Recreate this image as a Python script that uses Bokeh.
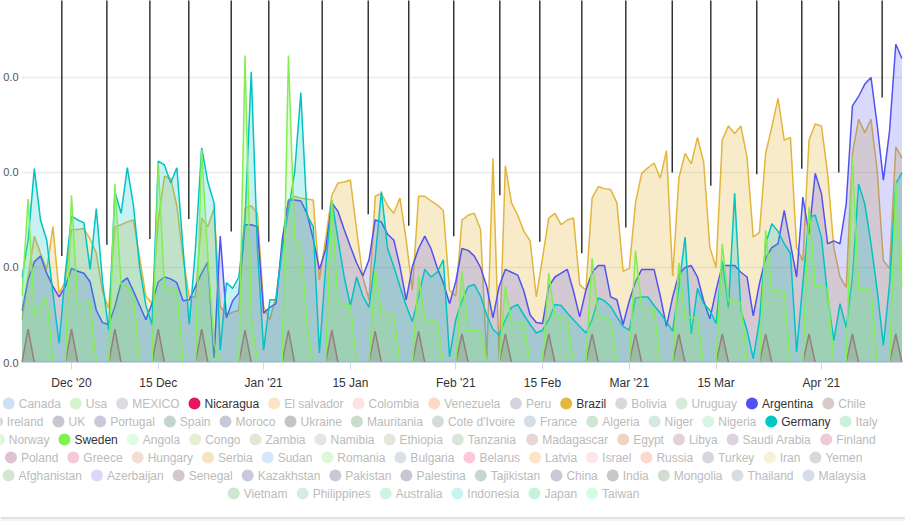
import pandas as pd
from bokeh.plotting import figure
from bokeh.models import (Range1d, FixedTicker, ColumnDataSource, GlobalInlineStyleSheet,
                          BoxAnnotation, Span)
from bokeh.embed import file_html
from bokeh.resources import INLINE
from bokeh.core.properties import value

# ---------------- data ----------------
start_date = "2020-11-23"
n_days = 143

nicaragua = [
    0, 3.5, 0, 0, 0, 0, 0,
    0, 3.5, 0, 0, 0, 0, 0,
    0, 3.5, 0, 0, 0, 0, 0,
    0, 3.5, 0, 0, 0, 0, 0,
    0, 3.5, 0, 0, 0, 0, 0,
    0, 3.4, 0, 0, 0, 0, 0,
    0, 3.4, 0, 0, 0, 0, 0,
    0, 3.4, 0, 0, 0, 0, 0,
    0, 3.3, 0, 0, 0, 0, 0,
    0, 3.3, 0, 0, 0, 0, 0,
    0, 3.0, 0, 0, 0, 0, 0,
    0, 3.0, 0, 0, 0, 0, 0,
    0, 3.0, 0, 0, 0, 0, 0,
    0, 3.0, 0, 0, 0, 0, 0,
    0, 3.0, 0, 0, 0, 0, 0,
    0, 3.0, 0, 0, 0, 0, 0,
    0, 3.0, 0, 0, 0, 0, 0,
    0, 3.0, 0, 0, 0, 0, 0,
    0, 3.0, 0, 0, 0, 0, 0,
    0, 3.0, 0, 0, 0, 0, 0,
    0, 3.0, 0,
]

brazil = [
    4.5, 9.0, 13.3, 11.5, 9.8, 14.3, 7.3,
    8.5, 14.0, 14.0, 14.1, 13.0, 11.5, 7.5,
    5.7, 14.3, 14.5, 14.8, 15.0, 11.0, 7.0,
    6.2, 15.0, 19.6, 19.4, 16.5, 11.0, 6.9,
    6.9, 15.2, 14.3, 16.2, 5.9, 5.0, 5.3,
    5.5, 16.2, 16.5, 15.7, 5.9, 4.5, 7.0,
    12.0, 17.0, 17.5, 17.3, 17.2, 17.1, 8.7,
    13.0, 17.6, 18.9, 19.0, 19.2, 14.0, 9.0,
    6.6, 17.5, 17.8, 16.5, 15.7, 17.3, 12.9,
    7.6, 17.5, 17.5, 17.0, 16.6, 16.0, 7.6,
    7.0, 15.0, 15.5, 15.7, 14.0, 0.3, 21.5,
    0.3, 20.7, 16.8, 15.5, 13.8, 12.8, 6.9,
    11.0, 15.2, 15.7, 14.5, 15.0, 15.2, 8.2,
    7.6, 17.3, 18.5, 18.3, 18.2, 16.8, 9.6,
    9.9, 16.8, 19.9, 20.5, 21.0, 19.4, 22.3,
    9.1, 19.4, 22.0, 20.9, 23.7, 21.1, 12.1,
    10.0, 23.4, 24.9, 24.1, 24.9, 21.6, 13.2,
    13.7, 22.0, 24.8, 27.8, 23.4, 23.7, 12.1,
    10.7, 23.4, 25.1, 24.9, 19.9, 12.1, 9.0,
    7.9, 22.0, 25.6, 24.2, 25.6, 20.2, 10.7,
    9.9, 22.7, 21.5,
]

argentina = [
    5.4, 8.7, 10.6, 11.2, 9.4, 8.0, 6.9,
    8.0, 9.9, 9.6, 9.4, 8.5, 5.5, 4.2,
    4.0, 5.9, 8.4, 8.9, 7.5, 6.0, 4.5,
    6.2, 8.5, 9.0, 8.8, 8.4, 6.5, 6.6,
    8.0, 9.4, 10.6, 0.5, 13.3, 4.7, 6.5,
    7.3, 14.5, 14.5, 14.3, 5.2, 5.8, 6.2,
    12.9, 17.1, 17.1, 17.0, 15.7, 13.0, 9.8,
    11.9, 16.8, 15.9, 14.0, 12.2, 10.5, 9.1,
    10.8, 15.0, 14.8, 13.5, 12.9, 10.1, 6.6,
    10.1, 12.0, 13.3, 12.0, 10.0, 8.4, 6.2,
    8.5, 12.0, 11.8, 11.2, 10.0, 8.0, 4.7,
    8.0, 9.8, 9.5, 9.2, 7.5, 5.0, 4.2,
    4.1, 8.0, 9.0, 9.4, 9.8, 7.5, 4.8,
    7.6, 9.5, 10.2, 10.2, 6.9, 6.6, 4.0,
    6.5, 8.5, 9.8, 9.8, 9.8, 7.0, 3.8,
    6.9, 9.3, 10.0, 10.2, 9.0, 6.5, 4.6,
    7.6, 10.2, 10.2, 10.2, 9.5, 9.0, 4.9,
    8.3, 11.0, 12.1, 12.5, 16.0, 12.5, 9.0,
    17.4, 13.5, 19.9, 17.8, 12.5, 12.8, 12.5,
    16.7, 27.0, 28.0, 29.3, 30.0, 25.0, 19.2,
    24.4, 33.5, 32.0,
]

germany = [
    8.9, 12.9, 20.4, 15.0, 12.9, 7.3, 2.0,
    9.4, 15.4, 15.0, 14.7, 9.8, 16.2, 8.5,
    3.4, 18.0, 15.7, 20.5, 16.5, 10.0, 6.0,
    4.0, 21.2, 20.8, 18.9, 20.5, 12.0, 4.0,
    12.0, 22.6, 19.0, 16.8, 1.3, 8.4, 7.8,
    9.0, 15.0, 30.6, 12.0, 1.3, 6.6, 6.6,
    12.0, 16.0, 20.0, 28.4, 15.5, 14.3, 1.0,
    10.0, 17.1, 13.0, 9.0, 6.0, 9.0, 7.0,
    5.8, 11.0, 18.0, 12.0, 10.1, 8.0, 6.0,
    4.3, 7.0, 9.8, 9.0, 9.5, 10.8, 0.6,
    4.5, 6.5, 8.0, 8.2, 7.0, 5.0, 3.5,
    2.9, 4.5, 5.8, 6.1, 5.0, 4.0, 3.1,
    3.4, 4.5, 6.1, 6.0, 5.2, 4.5, 3.8,
    3.1, 4.5, 6.8, 6.5, 5.9, 4.8, 3.8,
    3.4, 6.8, 6.9, 6.9, 6.0, 5.2, 4.3,
    3.3, 7.9, 13.2, 3.0, 7.8, 6.2, 5.5,
    4.1, 10.7, 5.8, 17.8, 5.5, 3.4, 0.4,
    4.4, 12.5, 14.6, 13.8, 12.5, 11.5, 1.1,
    8.3, 15.3, 15.5, 13.2, 7.0, 2.3, 6.2,
    3.7, 9.0, 18.8, 16.7, 12.5, 7.6, 1.8,
    8.3, 18.8, 20.0,
]

sweden = [
    7.0, 17.2, 5.0, 6.0, 6.8, 0, 0,
    0, 17.6, 6.2, 6.2, 6.3, 0, 0,
    0, 18.8, 8.2, 8.0, 7.0, 0, 0,
    0, 21.0, 8.0, 7.6, 7.6, 0, 0,
    0, 22.4, 11.0, 2.0, 0, 0, 0,
    0, 32.3, 5.0, 0, 0, 0, 0,
    0, 32.3, 13.0, 12.5, 4.0, 0, 0,
    0, 17.1, 6.2, 6.2, 6.0, 0, 0,
    0, 9.8, 5.2, 5.2, 5.0, 0, 0,
    0, 9.1, 4.5, 4.5, 4.3, 0, 0,
    0, 9.6, 3.4, 3.4, 3.3, 0, 0,
    0, 8.0, 4.3, 4.3, 4.2, 0, 0,
    0, 9.4, 4.8, 4.8, 4.6, 0, 0,
    0, 11.0, 4.8, 4.6, 4.5, 0, 0,
    0, 11.8, 5.8, 5.8, 5.6, 0, 0,
    0, 10.5, 4.8, 4.8, 4.6, 0, 0,
    0, 12.5, 6.5, 6.5, 6.3, 0, 0,
    0, 13.9, 7.6, 7.6, 7.4, 0, 0,
    0, 16.4, 8.0, 8.0, 7.8, 0, 0,
    0, 21.6, 7.8, 7.8, 7.6, 0, 0,
    0, 19.0, 8.0,
]

marker_dates = [
    "2020-11-29 10:30", "2020-12-06 17:00", "2020-12-13 15:30", "2020-12-19 22:15",
    "2020-12-26 18:30", "2021-01-01 20:00", "2021-01-10 10:45", "2021-01-17 21:00",
    "2021-01-24 10:00", "2021-01-31 16:15", "2021-02-08 02:40", "2021-02-14 13:30",
    "2021-02-21 08:10", "2021-02-28 10:30", "2021-03-07 22:20", "2021-03-14 03:40",
    "2021-03-21 13:40", "2021-03-28 20:00", "2021-04-03 19:10", "2021-04-10 19:10",
]
marker_values = [11.2, 12.4, 13.0, 15.1, 13.8, 12.7, 16.1, 15.6, 14.4, 13.3,
                 17.6, 12.7, 11.5, 14.2, 20.0, 18.6, 19.8, 20.4, 20.0, 27.9]

tick_dates = ["2020-12-01", "2020-12-15", "2021-01-01", "2021-01-15", "2021-02-01",
              "2021-02-15", "2021-03-01", "2021-03-15", "2021-04-01"]
tick_labels = ["Dec '20", "15 Dec", "Jan '21", "15 Jan", "Feb '21",
               "15 Feb", "Mar '21", "15 Mar", "Apr '21"]

y_ticks = [0, 10, 20, 30]
y_tick_labels = ["0.0", "0.0", "0.0", "0.0"]

legend_rows = [
    ["Canada", "Usa", "MEXICO", "Nicaragua", "El salvador", "Colombia", "Venezuela",
     "Peru", "Brazil", "Bolivia", "Uruguay", "Argentina", "Chile"],
    ["Ireland", "UK", "Portugal", "Spain", "Moroco", "Ukraine", "Mauritania",
     "Cote d'Ivoire", "France", "Algeria", "Niger", "Nigeria", "Germany", "Italy"],
    ["Norway", "Sweden", "Angola", "Congo", "Zambia", "Namibia", "Ethiopia",
     "Tanzania", "Madagascar", "Egypt", "Libya", "Saudi Arabia", "Finland"],
    ["Poland", "Greece", "Hungary", "Serbia", "Sudan", "Romania", "Bulgaria",
     "Belarus", "Latvia", "Israel", "Russia", "Turkey", "Iran", "Yemen"],
    ["Afghanistan", "Azerbaijan", "Senegal", "Kazakhstan", "Pakistan", "Palestina",
     "Tajikistan", "China", "India", "Mongolia", "Thailand", "Malaysia"],
    ["Vietnam", "Philippines", "Australia", "Indonesia", "Japan", "Taiwan"],
]

# ---------------- styles ----------------
series_styles = [
    ("Nicaragua", nicaragua, "#e8185f", 0.25),
    ("Brazil", brazil, "#e2b63c", 0.28),
    ("Argentina", argentina, "#5252f2", 0.22),
    ("Germany", germany, "#00c4c4", 0.22),
    ("Sweden", sweden, "#82ee55", 0.22),
]
legend_color = {
    "Canada": "#cfe0f5", "Usa": "#d6f5cf", "MEXICO": "#d9dde2", "Nicaragua": "#e8185f",
    "El salvador": "#fde4c2", "Colombia": "#fde2e4", "Venezuela": "#fbd8c8", "Peru": "#d5d3de",
    "Brazil": "#e2b93f", "Bolivia": "#ddd7d9", "Uruguay": "#d6ecd8", "Argentina": "#5151f5",
    "Chile": "#d9c9c9",
    "Ireland": "#c9c9d9", "UK": "#c7c7d3", "Portugal": "#ccc8d9", "Spain": "#c5d5cc",
    "Moroco": "#c9c8d6", "Ukraine": "#c4c4c4", "Mauritania": "#cbdccb", "Cote d'Ivoire": "#d3dcdc",
    "France": "#d3deea", "Algeria": "#cfe6d2", "Niger": "#d5e8e8", "Nigeria": "#d5f6e1",
    "Germany": "#00c7c7", "Italy": "#c9f2dd",
    "Norway": "#d6f7d6", "Sweden": "#80f24d", "Angola": "#e2fce2", "Congo": "#e5f0d3",
    "Zambia": "#e6e6d4", "Namibia": "#e5e5e5", "Ethiopia": "#e6e6dc", "Tanzania": "#d9e6d9",
    "Madagascar": "#ead5d5", "Egypt": "#ecd5c4", "Libya": "#e0d2d6", "Saudi Arabia": "#ddd2e2",
    "Finland": "#eccad6",
    "Poland": "#dec4d2", "Greece": "#f5c9d5", "Hungary": "#f6ddd3", "Serbia": "#f6e5c3",
    "Sudan": "#d6e6fd", "Romania": "#ddf8d5", "Bulgaria": "#dde0e5", "Belarus": "#fcc9dc",
    "Latvia": "#fde5c3", "Israel": "#fde6ea", "Russia": "#fdd8cb", "Turkey": "#d9d5de",
    "Iran": "#f8f0d9", "Yemen": "#ddd8d8",
    "Afghanistan": "#d3e8d3", "Azerbaijan": "#d8d8fd", "Senegal": "#d5c8c8",
    "Kazakhstan": "#c9c9dd", "Pakistan": "#c9c8d6", "Palestina": "#c9c5d2",
    "Tajikistan": "#c6d6d1", "China": "#c9c9d6", "India": "#c7c7c9", "Mongolia": "#d2ddd2",
    "Thailand": "#d6dede", "Malaysia": "#d5dde9",
    "Vietnam": "#cde6cd", "Philippines": "#d5eaea", "Australia": "#d1f3e1",
    "Indonesia": "#c9f3f5", "Japan": "#c6f3dc", "Taiwan": "#d5fde3",
}
active = {"Nicaragua", "Brazil", "Argentina", "Germany", "Sweden"}
FONT = "Liberation Sans"


def to_ms(s):
    return pd.Timestamp(s).value / 1e6


dates = pd.date_range(start_date, periods=n_days, freq="D")

# ---------------- main chart ----------------
p = figure(width=905, height=395, x_axis_type="datetime",
           x_range=Range1d(to_ms("2020-11-22 22:20"), to_ms("2021-04-14 02:00")),
           y_range=Range1d(0, 38.1),
           toolbar_location=None, output_backend="svg",
           min_border_left=21, min_border_right=3, min_border_top=0, min_border_bottom=33)
p.outline_line_color = None
p.background_fill_color = "white"
p.border_fill_color = "white"
p.xgrid.visible = False
p.ygrid.grid_line_color = "#e9e9e9"
p.ygrid.grid_line_width = 1.5

for name, vals, color, alpha in series_styles:
    src = ColumnDataSource(dict(x=dates, y=vals))
    p.varea(x="x", y1=0, y2="y", source=src, fill_color=color, fill_alpha=alpha)
    p.line(x="x", y="y", source=src, line_color=color, line_width=1.5)

mk = ColumnDataSource(dict(x=pd.to_datetime(marker_dates), y=marker_values,
                           top=[60] * len(marker_values)))
p.segment(x0="x", y0="y", x1="x", y1="top", source=mk, line_color="#262626", line_width=1.4)

tick_ms = [to_ms(t) for t in tick_dates]
p.xaxis.ticker = FixedTicker(ticks=tick_ms)
p.xaxis.major_label_overrides = {t: l for t, l in zip(tick_ms, tick_labels)}
p.xaxis.axis_line_color = "#ccd6eb"
p.xaxis.major_tick_line_color = "#ccd6eb"
p.xaxis.major_tick_in = 0
p.xaxis.major_tick_out = 7
p.xaxis.minor_tick_line_color = None
p.xaxis.major_label_text_font = FONT
p.xaxis.major_label_text_font_size = "12px"
p.xaxis.major_label_text_color = "#333333"
p.xaxis.major_label_standoff = 6

p.yaxis.ticker = FixedTicker(ticks=y_ticks)
p.yaxis.major_label_overrides = {t: l for t, l in zip(y_ticks, y_tick_labels)}
p.yaxis.axis_line_color = None
p.yaxis.major_tick_line_color = None
p.yaxis.minor_tick_line_color = None
p.yaxis.major_tick_in = 0
p.yaxis.major_tick_out = 0
p.yaxis.major_label_text_font = FONT
p.yaxis.major_label_text_font_size = "11px"
p.yaxis.major_label_text_color = "#555555"
p.yaxis.major_label_standoff = 3
p.ygrid.ticker = FixedTicker(ticks=y_ticks)

# ---------------- legend ----------------
CW = {' ': 278, "'": 191, '.': 278,
      'a': 556, 'b': 556, 'c': 500, 'd': 556, 'e': 556, 'f': 278, 'g': 556, 'h': 556,
      'i': 222, 'j': 222, 'k': 500, 'l': 222, 'm': 833, 'n': 556, 'o': 556, 'p': 556,
      'q': 556, 'r': 333, 's': 500, 't': 278, 'u': 556, 'v': 500, 'w': 722, 'x': 500,
      'y': 500, 'z': 500,
      'A': 667, 'B': 667, 'C': 722, 'D': 722, 'E': 667, 'F': 611, 'G': 778, 'H': 722,
      'I': 278, 'J': 500, 'K': 667, 'L': 556, 'M': 833, 'N': 722, 'O': 778, 'P': 667,
      'Q': 778, 'R': 722, 'S': 667, 'T': 611, 'U': 722, 'V': 667, 'W': 944, 'X': 667,
      'Y': 667, 'Z': 611}


def text_w(s, size=12):
    return sum(CW.get(c, 556) for c in s) * size / 1000.0


legend_center = 433.7
sym_r = 6
text_gap = 10
item_gap = 15
row_top = 8
row_step = 18

cx, cy, ccol, tx, ttext, tcol = [], [], [], [], [], []
for r, row in enumerate(legend_rows):
    widths = [text_w(n) for n in row]
    total = sum(widths) + (text_gap + item_gap) * len(row) - item_gap + sym_r
    c = legend_center - total / 2 + sym_r
    y = row_top + r * row_step
    for n, w in zip(row, widths):
        cx.append(c)
        cy.append(y)
        ccol.append(legend_color[n])
        tx.append(c + text_gap)
        ttext.append(n)
        tcol.append("#333333" if n in active else "#bbbbbb")
        c += text_gap + w + item_gap

p2 = figure(width=905, height=126, x_range=Range1d(0, 905), y_range=Range1d(126, 0),
            x_axis_type=None, y_axis_type=None, toolbar_location=None,
            output_backend="svg", min_border=0)
p2.outline_line_color = None
p2.grid.visible = False
p2.background_fill_color = "white"
p2.border_fill_color = "white"
p2.scatter(x=cx, y=cy, size=2 * sym_r, marker="circle", fill_color=ccol, line_color=None)
p2.text(x=tx, y=cy, text=ttext, text_color=tcol, text_font=value(FONT),
        text_font_size="12px", text_baseline="middle", text_align="left")
p2.add_layout(BoxAnnotation(top=122.5, bottom=126, fill_color="#f3f3f3", fill_alpha=1,
                            line_color=None))
p2.add_layout(Span(location=122.5, dimension="width", line_color="#e2e2e2", line_width=2))

p.stylesheets = [GlobalInlineStyleSheet(
    css="html, body { margin: 0 !important; padding: 0 !important; overflow: hidden; line-height: 0; }")]

open("out.html", "w").write(file_html([p, p2], INLINE))
